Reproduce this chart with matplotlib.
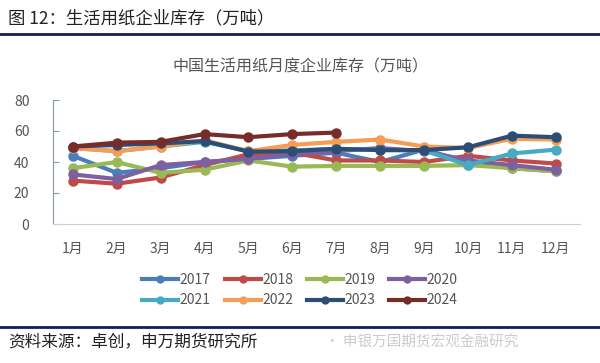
import numpy as np
import matplotlib
matplotlib.use("Agg")
import matplotlib.pyplot as plt
from matplotlib.lines import Line2D

plt.rcParams['font.family'] = ['Noto Sans CJK SC', 'DejaVu Sans']

months = ['1月', '2月', '3月', '4月', '5月', '6月', '7月', '8月', '9月', '10月', '11月', '12月']
years = ['2017', '2018', '2019', '2020', '2021', '2022', '2023', '2024']

s2017 = [44, 33, 36, 40, 42, 44, 46, 40, 48, 40, 36, 34]
s2018 = [28, 26, 30, 38, 45, 46, 41, 41, 40, 44, 41, 39]
s2019 = [36, 40, 33, 35, 41, 37, 37.5, 37.5, 37.5, 38, 36, 34]
s2020 = [32, 29, 38, 40, 42, 45, 47, 49, 47, 41, 38, 35]
s2021 = [49, 47, 50, 53, 47, 47.5, 48.5, 47.7, 47.5, 38, 45.5, 48]
s2022 = [49, 47, 50, 54, 47, 51, 53, 54.5, 50, 49, 55, 54.5]
s2023 = [50, 51, 52, 53.5, 46.7, 47, 48.5, 47.7, 47.7, 49.5, 57, 56]
s2024 = [50, 52.5, 53, 58, 56, 58, 59]

series = [s2017, s2018, s2019, s2020, s2021, s2022, s2023, s2024]
colors = ['#4A7EBB', '#BE4B48', '#98B954', '#7D60A0', '#46AAC5', '#F59D56', '#2C4D75', '#772C2A']

fig = plt.figure(figsize=(6.0, 3.63), dpi=100)
ax = fig.add_axes([53 / 600, 1 - 224 / 363, 527 / 600, 124 / 363])

x = np.arange(len(months))
for vals, c, name in zip(series, colors, years):
    ax.plot(x[:len(vals)], vals, color=c, lw=3, marker='o', ms=6.5, label=name,
            solid_capstyle='round', solid_joinstyle='round')

ax.set_xlim(-0.45, 11.55)
ax.set_ylim(0, 80)
ax.set_yticks([0, 20, 40, 60, 80])
ax.set_xticks(x)
ax.set_xticklabels(months)
for s in ['top', 'right']:
    ax.spines[s].set_visible(False)
ax.spines['left'].set_color('#8899AA')
ax.spines['bottom'].set_color('#D0D0D0')
ax.tick_params(axis='y', direction='in', length=4, color='#8899AA', labelsize=10,
               labelcolor='#555555', pad=17)
ax.tick_params(axis='x', length=0, labelsize=10, labelcolor='#555555', pad=13)

# legend fills column-first, so reorder to read row by row
order = [0, 4, 1, 5, 2, 6, 3, 7]
handles = [Line2D([], [], color=colors[i], lw=3, marker='o', ms=5) for i in order]
labels = [years[i] for i in order]
fig.legend(handles, labels, loc='center', bbox_to_anchor=(0.5, 1 - 290 / 363), ncol=4,
           frameon=False, fontsize=10, handlelength=2.6, handletextpad=0.1,
           columnspacing=1.0, labelspacing=0.5, labelcolor='#555555')

fig.text(0.5, 1 - 67 / 363, '中国生活用纸月度企业库存（万吨）', ha='center', va='center',
         fontsize=11.5, color='#555555')
fig.text(8 / 600, 1 - 18 / 363, '图 12：生活用纸企业库存（万吨）', ha='left', va='center',
         fontsize=12.5, color='#222222')
fig.add_artist(Line2D([0, 1], [1 - 33.5 / 363] * 2, color='#1A1A5E', lw=2))
fig.add_artist(Line2D([0, 1], [1 - 327 / 363] * 2, color='#1A1A5E', lw=2))
fig.text(8 / 600, 1 - 342 / 363, '资料来源：卓创，申万期货研究所', ha='left', va='center',
         fontsize=12, color='#222222')
fig.text(325 / 600, 1 - 342 / 363, '· 申银万国期货宏观金融研究', ha='left', va='center',
         fontsize=10.5, color='#CCCCCC')

fig.savefig('out.png', dpi=100)
